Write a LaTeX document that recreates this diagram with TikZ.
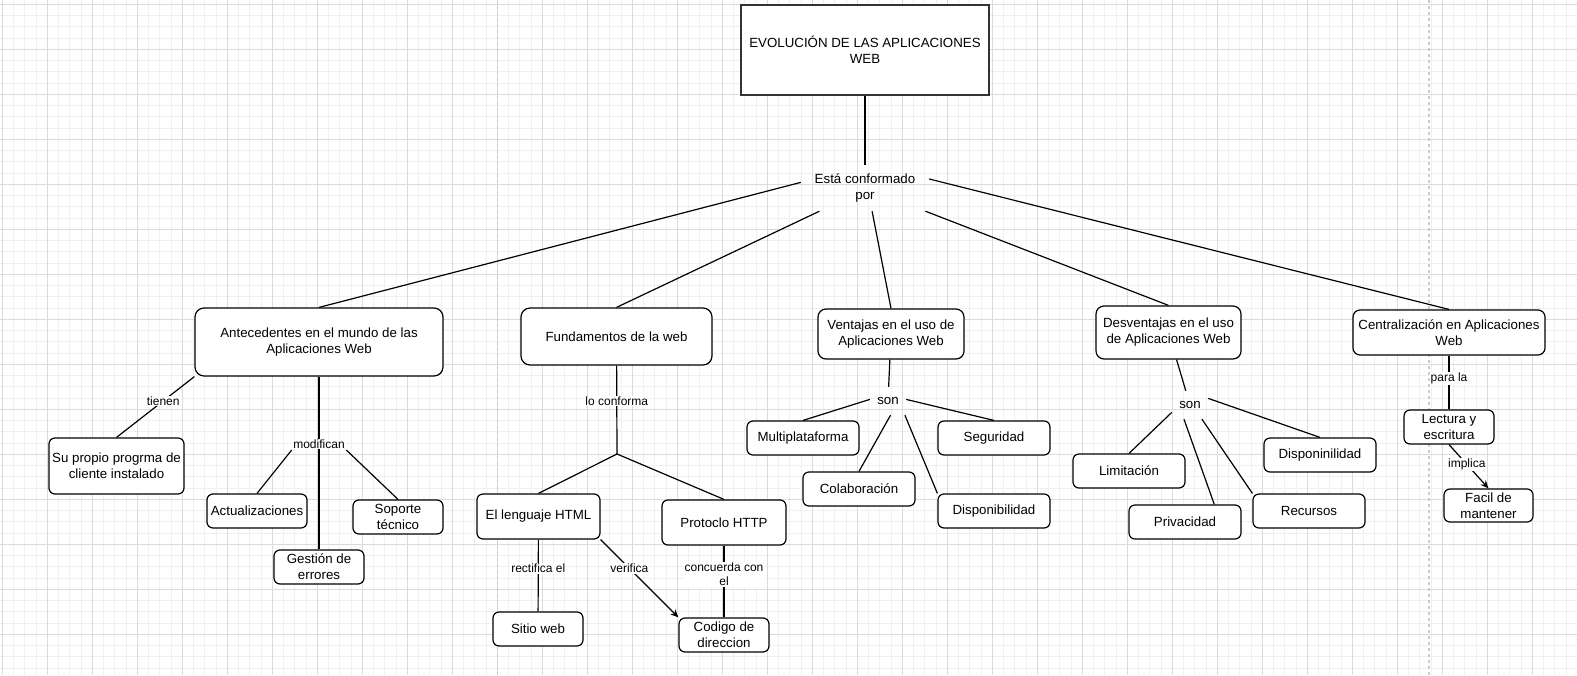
\documentclass[tikz,border=0pt]{standalone}
\usepackage{fontspec}
\setmainfont{Liberation Sans}
\usetikzlibrary{arrows.meta}

\begin{document}
\begin{tikzpicture}[x=1pt,y=-1pt]
        \tikzstyle{every node}=[font=\fontsize{13.3}{16}\selectfont, text=black, align=center]
        \tikzstyle{box}=[draw=black, fill=white, rounded corners=6pt, line width=1.2pt, inner sep=1pt]
        \tikzstyle{hub}=[inner sep=0pt, minimum width=36pt, minimum height=28pt]
        \tikzstyle{lbl}=[fill=white, inner sep=1pt, font=\fontsize{12}{14}\selectfont]
        \tikzstyle{edge}=[black, line width=1.2pt]

        \useasboundingbox (0,0) rectangle (1577,675);
        \fill[white] (0,0) rectangle (1577,675);

        % grid of the sheet
        \foreach \i in {0,...,139} \draw[black!6, line width=1pt] ({2.3+11.25*\i},0) -- ++(0,675);
        \foreach \i in {0,...,59}  \draw[black!6, line width=1pt] (0,{4.3+11.25*\i}) -- ++(1577,0);
        \foreach \i in {0,...,34}  \draw[black!14, line width=1pt] ({2.3+45*\i},0) -- ++(0,675);
        \foreach \i in {0,...,14}  \draw[black!14, line width=1pt] (0,{4.3+45*\i}) -- ++(1577,0);
        \foreach \x in {497.5,1429} \draw[black!20, line width=1.6pt, dash pattern=on 3pt off 3pt] (\x,0) -- (\x,675);

        \node[draw=black!80, fill=white, line width=1.6pt, minimum width=248pt, minimum height=90pt] (tit) at (865,50) {EVOLUCIÓN DE LAS APLICACIONES\\WEB};
        \node[hub, minimum width=128pt, minimum height=46pt] (conf) at (865,188) {Está conformado\\por};

        \node[box, rounded corners=9pt, minimum width=248pt, minimum height=68pt] (ant) at (319,342)    {Antecedentes en el mundo de las\\Aplicaciones Web};
        \node[box, rounded corners=9pt, minimum width=191pt, minimum height=57pt] (fun) at (616.5,336.5) {Fundamentos de la web};
        \node[box, rounded corners=8pt, minimum width=146pt, minimum height=50pt] (ven) at (891,334)    {Ventajas en el uso de\\Aplicaciones Web};
        \node[box, rounded corners=8pt, minimum width=145pt, minimum height=53pt] (des) at (1168.5,332.5) {Desventajas en el uso\\de Aplicaciones Web};
        \node[box, rounded corners=7pt, minimum width=192pt, minimum height=45pt] (cen) at (1449,332.5)  {Centralización en Aplicaciones\\Web};

        \node[box, minimum width=135pt, minimum height=56pt] (sup) at (116.5,466) {Su propio progrma de\\cliente instalado};
        \node[box, minimum width=100pt, minimum height=34pt] (act) at (257,511)   {Actualizaciones};
        \node[box, minimum width=90pt,  minimum height=34pt] (sop) at (398,517)   {Soporte\\técnico};
        \node[box, minimum width=90pt,  minimum height=34pt] (ges) at (319,567)   {Gestión de\\errores};

        \node[box, minimum width=123pt, minimum height=45pt] (html) at (538.5,516.5) {El lenguaje HTML};
        \node[box, minimum width=124pt, minimum height=45pt] (http) at (724,522.5)   {Protoclo HTTP};
        \node[box, minimum width=90pt,  minimum height=34pt] (sit)  at (538,629)     {Sitio web};
        \node[box, minimum width=90pt,  minimum height=34pt] (cod)  at (724,635)     {Codigo de\\direccion};
        \coordinate (jun) at (617,454);

        \node[hub] (son1) at (888,401) {son};
        \node[box, minimum width=112pt, minimum height=34pt] (mul) at (803,438) {Multiplataforma};
        \node[box, minimum width=112pt, minimum height=34pt] (seg) at (994,438) {Seguridad};
        \node[box, minimum width=112pt, minimum height=34pt] (col) at (859,489) {Colaboración};
        \node[box, minimum width=112pt, minimum height=34pt] (dis) at (994,511) {Disponibilidad};

        \node[hub] (son2) at (1190,405) {son};
        \node[box, minimum width=112pt, minimum height=34pt] (lim) at (1129,471) {Limitación};
        \node[box, minimum width=112pt, minimum height=34pt] (pri) at (1185,522) {Privacidad};
        \node[box, minimum width=112pt, minimum height=34pt] (rec) at (1309,511) {Recursos};
        \node[box, minimum width=112pt, minimum height=34pt] (dsn) at (1320,455) {Disponinilidad};

        \node[box, minimum width=90pt, minimum height=34pt] (lec) at (1449,427)   {Lectura y\\escritura};
        \node[box, minimum width=89pt, minimum height=33pt] (fac) at (1488.5,505.5) {Facil de\\mantener};

        \draw[edge] (tit) -- (conf);
        \draw[edge] (conf.175) -- (ant.north);
        \draw[edge] (conf.207) -- (fun.north);
        \draw[edge] (conf.287) -- (ven.north);
        \draw[edge] (conf.339) -- (des.north);
        \draw[edge] (conf.8)   -- (cen.north);

        \draw[edge] (ant.south west) -- node[lbl, pos=.4] {tienen} (sup.north);
        \draw[edge] (ant) -- node[lbl, pos=.39] (mod) {modifican} (ges);
        \draw[edge] (mod.south west) -- (act.north);
        \draw[edge] (mod.south east) -- (sop.north);

        \draw[edge] (fun) -- node[lbl, pos=.4] {lo conforma} (jun);
        \draw[edge] (jun) -- (html.north);
        \draw[edge] (jun) -- (http.north);
        \draw[edge] (html) -- node[lbl, pos=.4] {rectifica el} (sit);
        \draw[edge, -{Stealth[length=8pt, width=7pt]}] (html.south east) -- node[lbl, pos=.37] {verifica} (cod.north west);
        \draw[edge] (http) -- node[lbl, pos=.4] {concuerda con\\el} (cod);

        \draw[edge] (ven) -- (son1);
        \draw[edge] (son1.175) -- (mul.north);
        \draw[edge] (son1.280) -- (col.north);
        \draw[edge] (son1.320) -- (dis.north west);
        \draw[edge] (son1.5)   -- (seg.north);

        \draw[edge] (des) -- (son2);
        \draw[edge] (son2.202) -- (lim.north);
        \draw[edge] (son2.247) -- (pri.31);
        \draw[edge] (son2.310) -- (rec.north west);
        \draw[edge] (son2.20)  -- (dsn.north);

        \draw[edge] (cen) -- node[lbl, pos=.42] {para la} (lec);
        \draw[edge, -{Stealth[length=8pt, width=7pt]}] (lec.south) -- node[lbl, pos=.45] {implica} (fac.north);
\end{tikzpicture}
\end{document}
